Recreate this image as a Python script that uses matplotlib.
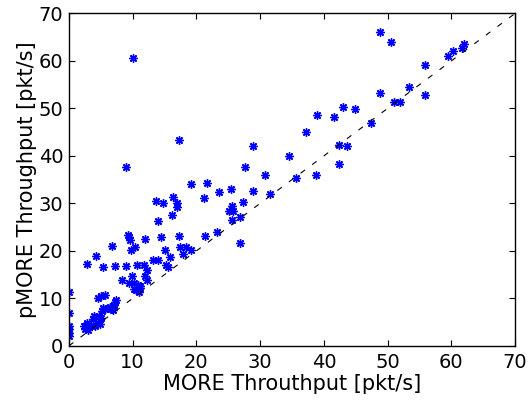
import matplotlib
matplotlib.use("Agg")
import matplotlib.pyplot as plt

plt.rcParams['font.family'] = ['DejaVu Sans']

# MORE throughput (x) vs pMORE throughput (y), pkt/s
more_tput = [0, 0, 0, 0, 0, 0,
             2.4, 2.6, 3.0, 3.1, 2.9, 3.5, 4.1, 4.6, 4.9, 3.8, 4.0, 4.2, 4.7, 5.1,
             5.2, 5.7, 6.1, 5.3, 6.4, 6.9, 6.7, 6.9, 7.0, 7.2, 7.4, 4.6, 5.1, 5.6,
             8.3, 9.4, 9.9, 10.2, 10.8, 11.1, 11.2, 10.5, 11.0, 10.2, 11.9, 12.2,
             2.9, 4.2, 5.3, 6.8, 7.3, 8.9, 10.7, 11.8, 12.2, 13.2, 14.0, 15.0, 15.9,
             15.3, 15.6, 17.4, 18.4, 19.1, 17.9,
             9.3, 9.5, 9.6, 9.7, 10.4, 11.9, 14.5, 17.2, 21.4, 23.3, 26.8,
             9.0, 10.0, 13.6, 14.7, 16.4, 17.0, 17.0, 16.1, 13.9, 17.3, 19.2, 21.7,
             23.5, 25.5, 21.2, 25.6, 27.3, 25.1, 25.7, 25.6, 26.8, 28.9, 27.7, 28.9,
             31.5, 30.7, 34.6, 35.6, 38.7, 37.2, 38.9, 41.6, 43.0, 44.8, 42.3, 43.6,
             42.3, 47.4, 48.8, 51.0, 52.0, 53.4, 55.8, 55.8, 48.8, 50.5, 59.4, 60.2,
             61.6, 62.0]
pmore_tput = [11.4, 7.0, 4.2, 3.5, 2.8, 2.1,
              4.1, 3.5, 3.4, 3.9, 4.8, 4.1, 4.1, 4.9, 4.6, 5.6, 6.3, 6.0, 6.2, 5.8,
              7.4, 7.7, 7.9, 7.9, 8.1, 7.6, 7.7, 8.3, 8.6, 9.3, 9.7, 10.0, 10.5, 10.7,
              13.8, 13.2, 14.7, 13.2, 12.8, 12.5, 12.2, 11.8, 11.3, 11.9, 14.8, 13.9,
              17.3, 18.9, 16.5, 21.1, 16.9, 16.9, 17.0, 17.0, 16.0, 18.0, 18.0, 20.1, 18.7,
              17.1, 16.5, 20.8, 20.8, 20.2, 19.3,
              23.4, 22.9, 22.3, 20.1, 20.8, 22.5, 23.0, 23.2, 23.2, 23.9, 21.7,
              37.7, 60.5, 30.6, 30.0, 31.4, 30.0, 29.2, 27.6, 26.2, 43.4, 34.0, 34.3,
              32.3, 33.0, 31.2, 29.5, 30.2, 28.4, 28.4, 26.5, 27.1, 42.0, 37.7, 32.7,
              31.9, 35.9, 40.0, 35.4, 35.9, 45.0, 48.6, 48.1, 50.3, 49.8, 42.3, 42.1,
              38.2, 46.9, 53.3, 51.4, 51.4, 54.4, 52.8, 59.1, 66.0, 63.9, 61.1, 62.1,
              62.7, 63.6]

fig = plt.figure(figsize=(5.3, 4.05), dpi=100)
ax = fig.add_axes([0.130, 0.146, 0.842, 0.821])

ax.plot(more_tput, pmore_tput, linestyle='none', marker=(8, 2, 0),
        color='#0000ff', markersize=6, markeredgewidth=1)
ax.plot([0, 70], [0, 70], color='black', linestyle=(0, (5, 8)), linewidth=0.8)

ax.set_xlim(0, 70)
ax.set_ylim(0, 70)
ax.set_xticks(range(0, 71, 10))
ax.set_yticks(range(0, 71, 10))
ax.tick_params(direction='in', top=True, right=True, length=4, labelsize=14)
ax.tick_params(axis='x', pad=5)
ax.tick_params(axis='y', pad=4)
for s in ax.spines.values():
    s.set_linewidth(1)

ax.set_xlabel('MORE Throuthput [pkt/s]', fontsize=15, labelpad=1.5)
ax.set_ylabel('pMORE Throughput [pkt/s]', fontsize=15, labelpad=1)

fig.savefig('out.png', dpi=100)
